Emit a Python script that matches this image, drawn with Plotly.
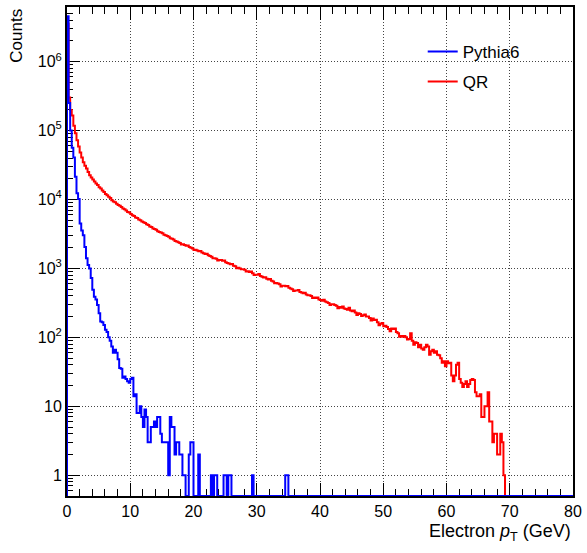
import math
import plotly.graph_objects as go

# ---------------- data ----------------
BIN_WIDTH = 0.25          # GeV
N_BINS = 320              # 0 .. 80 GeV
X_MIN, X_MAX = 0, 80

# QR (red) counts per bin, non-zero part (bins 0..276)
qr_counts = [
    3548000, 302000, 199500, 166000, 117500, 91200, 72400, 58900, 47900, 40700,
    34700, 30900, 28200, 25100, 22400, 20900, 19500, 18200, 17000, 16200,
    15100, 14500, 13500, 12900, 12000, 11500, 11000, 10500, 9770, 9330,
    9120, 8710, 8320, 8130, 7760, 7410, 7240, 6920, 6610, 6460,
    6170, 5890, 5750, 5500, 5370, 5130, 5010, 4790, 4680, 4570,
    4370, 4270, 4070, 3980, 3800, 3720, 3630, 3470, 3390, 3310,
    3240, 3090, 3020, 2950, 2880, 2750, 2690, 2630, 2510, 2450,
    2400, 2340, 2230, 2240, 2190, 2140, 2150, 2040, 1995, 1950,
    1850, 1860, 1820, 1780, 1790, 1700, 1660, 1620, 1630, 1550,
    1510, 1480, 1400, 1410, 1380, 1300, 1320, 1320, 1290, 1300,
    1230, 1200, 1175, 1150, 1160, 1096, 1072, 1010, 1023, 1000,
    977, 977, 955, 900, 912, 891, 900, 851, 800, 813,
    813, 830, 776, 759, 741, 745, 708, 692, 700, 661,
    646, 610, 617, 603, 589, 545, 562, 562, 550, 555,
    525, 513, 501, 470, 479, 479, 485, 457, 447, 437,
    445, 417, 407, 407, 398, 372, 380, 372, 380, 355,
    347, 339, 350, 331, 324, 316, 295, 302, 302, 295,
    288, 265, 275, 269, 280, 263, 257, 251, 270, 245,
    240, 245, 229, 212, 224, 219, 205, 209, 215, 200,
    200, 191, 175, 188, 178, 180, 166, 150, 158, 162,
    145, 148, 141, 132, 123, 135, 132, 135, 120, 115,
    102, 105, 102, 105, 100, 93, 95, 115, 89, 78,
    85, 83, 72, 78, 69, 66, 72, 78, 74, 56,
    63, 66, 60, 63, 56, 55, 50, 43, 45, 38,
    45, 42, 43, 28, 23, 28, 40, 43, 25, 22,
    19, 21, 23, 19, 21, 24, 25, 24, 16, 14,
    14, 15, 7, 7, 10, 10, 16, 6, 6, 3,
    4, 4, 2, 2, 4, 3, 1,
]

# Pythia6 (blue) counts per bin, non-zero part (bins 0..139)
pythia_counts = [
    4570000, 251000, 100000, 56200, 40700, 21400, 12300, 10200, 4470, 3550,
    3020, 2040, 1410, 1120, 1000, 724, 490, 389, 355, 295,
    224, 170, 166, 151, 129, 120, 100, 89, 74, 60,
    66, 60, 48, 36, 35, 26, 27, 25, 23, 22,
    25, 26, 14, 15, 8, 8, 10, 7, 5, 9,
    7, 3, 3, 5, 5, 6, 5, 7, 7, 4,
    3, 3, 3, 3, 1, 7, 5, 5, 2, 3,
    3, 2, 2, 1, 1, 0, 0, 2, 3, 3,
    0, 0, 0, 2, 0, 0, 0, 0, 0, 0,
    0, 1, 0, 1, 1, 0, 0, 0, 0, 1,
    1, 0, 1, 1, 0, 0, 0, 0, 0, 0,
    0, 0, 0, 0, 0, 0, 0, 1, 0, 0,
    0, 0, 0, 0, 0, 0, 0, 0, 0, 0,
    0, 0, 0, 0, 0, 0, 0, 0, 1, 1,
]

series_names = ["Pythia6", "QR"]
series_colors = ["#0000ff", "#ff0000"]

y_tick_vals = [1, 10, 100, 1000, 10000, 100000, 1000000]
y_tick_text = ["1", "10", "10<sup>2</sup>", "10<sup>3</sup>", "10<sup>4</sup>",
               "10<sup>5</sup>", "10<sup>6</sup>"]

Y_MIN, Y_MAX = 0.5, 6.2e6

# ---------------- helpers ----------------
def pad(counts):
    return list(counts) + [0] * (N_BINS - len(counts))

edges = [X_MIN + i * BIN_WIDTH for i in range(N_BINS + 1)]

def step_xy(counts):
    c = [v if v > 0 else Y_MIN for v in pad(counts)]
    xs = [edges[0]] + edges[:-1] + [edges[-1]]
    ys = [Y_MIN] + c + [c[-1]]
    return xs, ys

FONT = "Liberation Sans, Arial, Helvetica, sans-serif"

fig = go.Figure()
order = [(1, qr_counts), (0, pythia_counts)]
for idx, counts in order:
    xs, ys = step_xy(counts)
    fig.add_trace(go.Scatter(
        x=xs, y=ys, mode="lines", line=dict(color=series_colors[idx], width=2, shape="hv"),
        name=series_names[idx], legendrank=idx + 1, legendgroup=series_names[idx],
        hoverinfo="skip",
    ))

minor_y = [m * 10 ** d for d in range(-1, 7) for m in range(2, 10)
           if Y_MIN < m * 10 ** d < Y_MAX]

grid_dash = "1px,2px"
fig.update_layout(
    width=587, height=553,
    margin=dict(l=67, r=12, t=5, b=57),
    paper_bgcolor="white", plot_bgcolor="white",
    font=dict(family=FONT, size=16, color="black"),
    showlegend=True,
    legend=dict(x=0.703, y=0.945, xanchor="left", yanchor="top",
                bgcolor="rgba(0,0,0,0)", borderwidth=0,
                font=dict(family=FONT, size=17, color="black"),
                traceorder="grouped", tracegroupgap=5),
    xaxis=dict(
        range=[X_MIN, X_MAX], dtick=10, tick0=0,
        showline=True, linecolor="black", linewidth=2, mirror="ticks",
        ticks="inside", ticklen=13, tickwidth=1, tickcolor="black",
        showgrid=True, gridcolor="#444444", gridwidth=1, griddash=grid_dash,
        zeroline=False,
        minor=dict(dtick=2, ticks="inside", ticklen=7, tickwidth=1, tickcolor="black", showgrid=False),
        tickfont=dict(family=FONT, size=16, color="black"),
        layer="below traces",
    ),
    yaxis=dict(
        type="log", range=[math.log10(Y_MIN), math.log10(Y_MAX)],
        tickmode="array", tickvals=y_tick_vals, ticktext=y_tick_text,
        showline=True, linecolor="black", linewidth=2, mirror=True,
        ticks="inside", ticklen=13, tickwidth=1, tickcolor="black",
        showgrid=True, gridcolor="#444444", gridwidth=1, griddash=grid_dash,
        zeroline=False,
        minor=dict(tickmode="array", tickvals=minor_y, ticks="inside", ticklen=6,
                   tickwidth=1, tickcolor="black", showgrid=False),
        tickfont=dict(family=FONT, size=16, color="black"),
        layer="below traces",
    ),
    annotations=[
        dict(text="Counts", textangle=-90, xref="paper", yref="paper",
             x=(15.5 - 67) / 508, y=1.0, xanchor="center", yanchor="top",
             showarrow=False, font=dict(family=FONT, size=17, color="black")),
        dict(text="Electron <i>p</i><sub>T</sub> (GeV)", xref="paper", yref="paper",
             x=1.0, y=-0.048, xanchor="right", yanchor="top",
             showarrow=False, font=dict(family=FONT, size=18, color="black")),
    ],
)

fig.write_html("out.html")
